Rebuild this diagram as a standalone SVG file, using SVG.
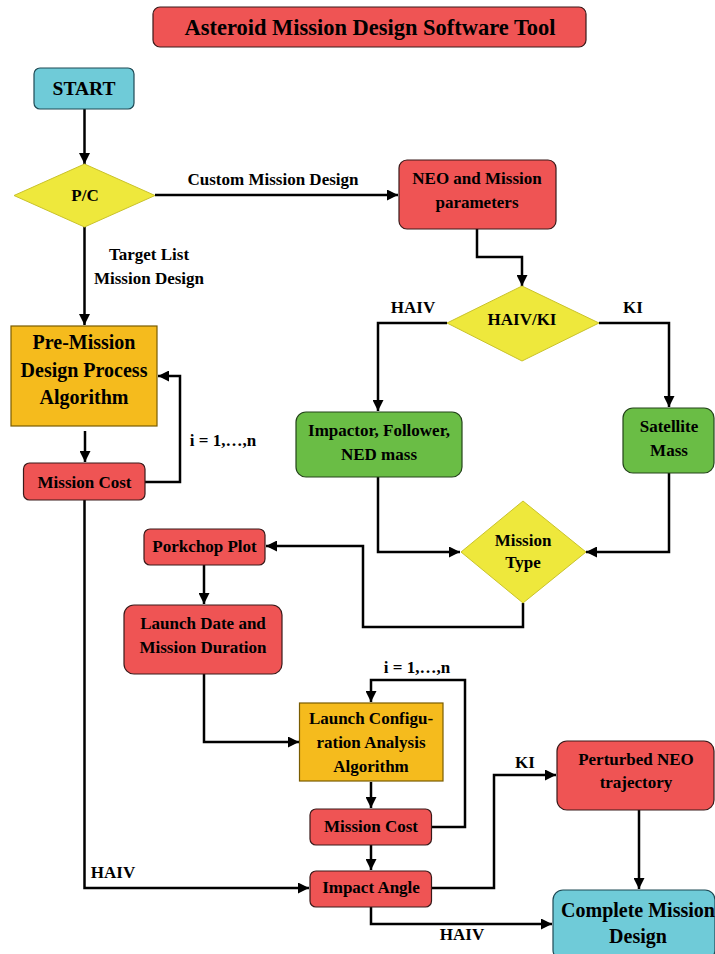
<svg xmlns="http://www.w3.org/2000/svg" width="715" height="954" viewBox="0 0 715 954">
<defs>
<marker id="ah" viewBox="0 0 10 10" refX="10" refY="5" markerWidth="11" markerHeight="11" markerUnits="userSpaceOnUse" orient="auto">
<path d="M0,0 L10,5 L0,10 z" fill="#000"/>
</marker>
<style>
text{font-family:"Liberation Serif","Times New Roman",serif;font-weight:bold;fill:#000;text-anchor:middle}
.t{font-size:17px}
.big{font-size:20px}
.red{fill:#ef5454;stroke:#3a1a1a;stroke-width:1.2}
.cyan{fill:#6fcbd8;stroke:#1e4a55;stroke-width:1.2}
.green{fill:#6abd45;stroke:#24441a;stroke-width:1.2}
.orange{fill:#f5bb1d;stroke:#7a5c00;stroke-width:1.2}
.yel{fill:#eee83c;stroke:#c9c22a;stroke-width:1}
.c path{fill:none;stroke:#000;stroke-width:2.5;marker-end:url(#ah)}
.c path.n{marker-end:none}
</style>
</defs>
<rect width="715" height="954" fill="#fff"/>

<g id="title">
<rect class="red" x="153" y="7" width="433" height="40" rx="7"/>
<text x="370" y="35" style="font-size:23px" textLength="371" lengthAdjust="spacingAndGlyphs">Asteroid Mission Design Software Tool</text>
</g>

<g class="c" id="connectors">
<path d="M84.5,109 V164"/>
<path d="M155,195 H398"/>
<path d="M84.5,227 V325"/>
<path d="M477,229 V257 H522 V286"/>
<path d="M447,323 H378 V411"/>
<path d="M599,323 H669 V407"/>
<path d="M85,431 V462"/>
<path d="M145,482 H180 V376 H158"/>
<path d="M378,477 V552 H460"/>
<path d="M669,473 V552 H586"/>
<path d="M523,603 V627 H363 V546 H266"/>
<path d="M204,565 V604"/>
<path d="M84.5,500 V888 H309"/>
<path d="M204,674 V742 H299"/>
<path d="M432,827 H465 V680 H371 V702"/>
<path d="M371,782 V808"/>
<path d="M371,845 V870"/>
<path d="M432,888 H494 V775 H556"/>
<path d="M639,810 V889"/>
<path d="M371,907 V924 H552"/>
</g>

<g id="labels">
<text class="t" x="273" y="185">Custom Mission Design</text>
<text class="t" x="149" y="260">Target List</text>
<text class="t" x="149" y="284">Mission Design</text>
<text class="t" x="413" y="313">HAIV</text>
<text class="t" x="633" y="313">KI</text>
<text class="t" x="223" y="446">i = 1,…,n</text>
<text class="t" x="417" y="673">i = 1,…,n</text>
<text class="t" x="525" y="768">KI</text>
<text class="t" x="113" y="878">HAIV</text>
<text class="t" x="462" y="940">HAIV</text>
</g>

<g id="start">
<rect class="cyan" x="34" y="68" width="100" height="41" rx="6"/>
<text x="84" y="95" style="font-size:19.5px">START</text>
</g>

<g id="pc">
<polygon class="yel" points="84.5,164 155,195.5 84.5,227 14,195.5"/>
<text class="t" x="85" y="201">P/C</text>
</g>

<g id="neo">
<rect class="red" x="399" y="160" width="157" height="69" rx="8"/>
<text class="t" x="477" y="184">NEO and Mission</text>
<text class="t" x="477" y="208">parameters</text>
</g>

<g id="haivki">
<polygon class="yel" points="522,286 599,323 522,361 447,323"/>
<text class="t" x="522" y="325">HAIV/KI</text>
</g>

<g id="premission">
<rect class="orange" x="11" y="326" width="146" height="100"/>
<text class="big" x="84" y="349">Pre-Mission</text>
<text class="big" x="84" y="377">Design Process</text>
<text class="big" x="84" y="404">Algorithm</text>
</g>

<g id="missioncost1">
<rect class="red" x="23.5" y="463" width="121.5" height="37" rx="6"/>
<text class="t" x="84.5" y="488">Mission Cost</text>
</g>

<g id="impactor">
<rect class="green" x="296" y="412" width="166" height="65" rx="10"/>
<text class="t" x="379" y="436">Impactor, Follower,</text>
<text class="t" x="379" y="460">NED mass</text>
</g>

<g id="satellite">
<rect class="green" x="623" y="408" width="91" height="65" rx="10"/>
<text class="t" x="669" y="432">Satellite</text>
<text class="t" x="669" y="456">Mass</text>
</g>

<g id="missiontype">
<polygon class="yel" points="523,501 586,552 523,603 461,552"/>
<text class="t" x="523" y="546">Mission</text>
<text class="t" x="523" y="568">Type</text>
</g>

<g id="porkchop">
<rect class="red" x="144" y="529" width="121" height="36" rx="6"/>
<text class="t" x="204.5" y="552">Porkchop Plot</text>
</g>

<g id="launchdate">
<rect class="red" x="124" y="605" width="158" height="69" rx="10"/>
<text class="t" x="203" y="629">Launch Date and</text>
<text class="t" x="203" y="653">Mission Duration</text>
</g>

<g id="launchconfig">
<rect class="orange" x="299.5" y="703" width="143.5" height="78"/>
<text class="t" x="371" y="724">Launch Configu-</text>
<text class="t" x="371" y="748">ration Analysis</text>
<text class="t" x="371" y="772">Algorithm</text>
</g>

<g id="missioncost2">
<rect class="red" x="310" y="809" width="121.5" height="36" rx="6"/>
<text class="t" x="371" y="832">Mission Cost</text>
</g>

<g id="impactangle">
<rect class="red" x="310" y="871" width="121.5" height="36" rx="6"/>
<text class="t" x="371" y="893">Impact Angle</text>
</g>

<g id="perturbed">
<rect class="red" x="557" y="741" width="157" height="69" rx="10"/>
<text class="t" x="636" y="765">Perturbed NEO</text>
<text class="t" x="636" y="788">trajectory</text>
</g>

<g id="complete">
<rect class="cyan" x="553" y="890" width="162" height="70" rx="10"/>
<text class="big" x="638" y="917">Complete Mission</text>
<text class="big" x="638" y="943">Design</text>
</g>
</svg>
